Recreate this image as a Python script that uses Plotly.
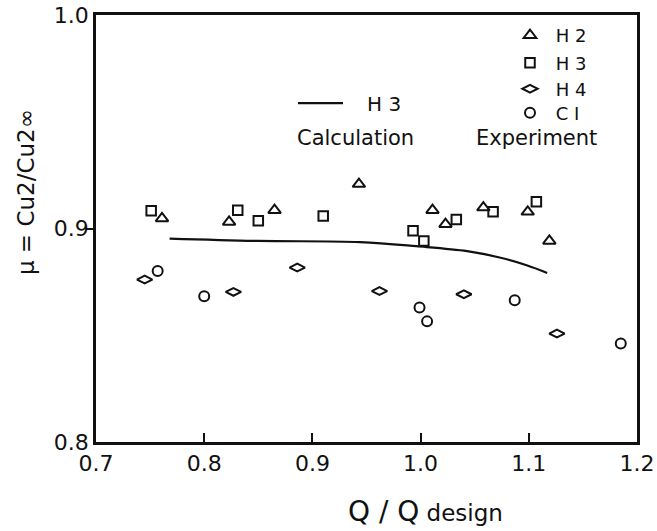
import plotly.graph_objects as go

# ---- data ----
h2_x = [0.761, 0.823, 0.865, 0.943, 1.011, 1.023, 1.058, 1.099, 1.119]
h2_y = [0.9047, 0.9031, 0.9086, 0.9208, 0.9086, 0.9020, 0.9098, 0.9078, 0.8942]

h3_x = [0.751, 0.831, 0.850, 0.910, 0.993, 1.003, 1.033, 1.067, 1.107]
h3_y = [0.9083, 0.9086, 0.9036, 0.9058, 0.8989, 0.8942, 0.9042, 0.9078, 0.9125]

h4_x = [0.745, 0.827, 0.886, 0.962, 1.040, 1.126]
h4_y = [0.8761, 0.8703, 0.8817, 0.8707, 0.8692, 0.8508]

c1_x = [0.757, 0.800, 0.999, 1.006, 1.087, 1.185]
c1_y = [0.8801, 0.8683, 0.8630, 0.8565, 0.8664, 0.8461]

calc_x = [0.768, 0.850, 0.944, 0.996, 1.043, 1.073, 1.098, 1.117]
calc_y = [0.8953, 0.8942, 0.8936, 0.8917, 0.8894, 0.8864, 0.8828, 0.8792]

x_ticks = [0.7, 0.8, 0.9, 1.0, 1.1, 1.2]
x_ticktext = ["0.7", "0.8", "0.9", "1.0", "1.1", "1.2"]
y_ticks = [0.8, 0.9, 1.0]
y_ticktext = ["0.8", "0.9", "1.0"]

FONT = "DejaVu Sans"
BLACK = "#111111"
NB = "\u00a0"

fig = go.Figure()

fig.add_trace(go.Scatter(
    x=calc_x, y=calc_y, mode="lines", name=NB * 3 + "H" + NB + "3",
    line=dict(color=BLACK, width=2.2, shape="spline"),
    legend="legend5"))

series = [
    (NB + "H" + NB + "2", h2_x, h2_y, "triangle-up-open", 11, "legend"),
    (NB + "H" + NB + "3", h3_x, h3_y, "square-open", 9.5, "legend2"),
    (NB + "H" + NB + "4", h4_x, h4_y, "diamond-wide-open", 11, "legend3"),
    (NB + "C" + NB + "I", c1_x, c1_y, "circle-open", 10, "legend4"),
]
for name, xs, ys, sym, sz, lg in series:
    fig.add_trace(go.Scatter(
        x=xs, y=ys, mode="markers", name=name,
        marker=dict(symbol=sym, size=sz, color=BLACK, line=dict(width=2, color=BLACK)),
        legend=lg))

# plot area: left 96, right 637, top 15, bottom 441.7 (px)
def px2paper_x(px):
    return (px - 96) / 541.0

def px2paper_y(py):
    return (441.7 - py) / 426.7

leg_font = dict(family=FONT, size=18, color=BLACK)
leg_common = dict(font=leg_font, bgcolor="rgba(0,0,0,0)", borderwidth=0,
                  xanchor="left", yanchor="middle", itemclick=False)
lx = px2paper_x(510)
fig.update_layout(
    legend=dict(x=lx, y=px2paper_y(35.5), **leg_common),
    legend2=dict(x=lx, y=px2paper_y(63), **leg_common),
    legend3=dict(x=lx, y=px2paper_y(89), **leg_common),
    legend4=dict(x=lx, y=px2paper_y(113), **leg_common),
    legend5=dict(x=px2paper_x(293), y=px2paper_y(103), itemwidth=45,
                 font=dict(family=FONT, size=20, color=BLACK),
                 bgcolor="rgba(0,0,0,0)", borderwidth=0,
                 xanchor="left", yanchor="middle", itemclick=False),
)

fig.update_xaxes(
    range=[0.7, 1.2], tickvals=x_ticks, ticktext=x_ticktext,
    ticks="inside", ticklen=9, tickwidth=2, tickcolor=BLACK,
    showline=True, linewidth=2.5, linecolor=BLACK, mirror=True,
    showgrid=False, zeroline=False, automargin=False,
    tickfont=dict(family=FONT, size=22, color=BLACK),
)
fig.update_yaxes(
    range=[0.8, 1.0], tickvals=y_ticks, ticktext=y_ticktext,
    ticks="", showline=True, linewidth=2.5, linecolor=BLACK, mirror=True,
    minor=dict(tickvals=[0.9], ticks="outside", ticklen=7, tickwidth=2, tickcolor=BLACK),
    showgrid=False, zeroline=False, automargin=False,
    tickfont=dict(family=FONT, size=22, color=BLACK),
)

annotations = [
    dict(text="Calculation", x=px2paper_x(355), y=px2paper_y(138),
         font=dict(family=FONT, size=21, color=BLACK)),
    dict(text="Experiment", x=px2paper_x(536), y=px2paper_y(138),
         font=dict(family=FONT, size=21, color=BLACK)),
    dict(text="μ = Cu2/Cu2∞", x=px2paper_x(26), y=px2paper_y(192), textangle=-90,
         font=dict(family=FONT, size=23, color=BLACK)),
    dict(text="<span style='font-size:28px'>Q / Q</span> design",
         x=px2paper_x(425), y=px2paper_y(511),
         font=dict(family=FONT, size=23, color=BLACK)),
]
for a in annotations:
    a.update(xref="paper", yref="paper", showarrow=False, xanchor="center", yanchor="middle")
fig.update_layout(annotations=annotations)

fig.update_layout(
    width=657, height=531,
    margin=dict(l=96, r=20, t=15, b=89.3, autoexpand=False),
    paper_bgcolor="white", plot_bgcolor="white",
    font=dict(family=FONT, color=BLACK),
    showlegend=True,
)

fig.write_html("out.html", config={"displayModeBar": False},
               post_script="document.body.style.margin='0';")
